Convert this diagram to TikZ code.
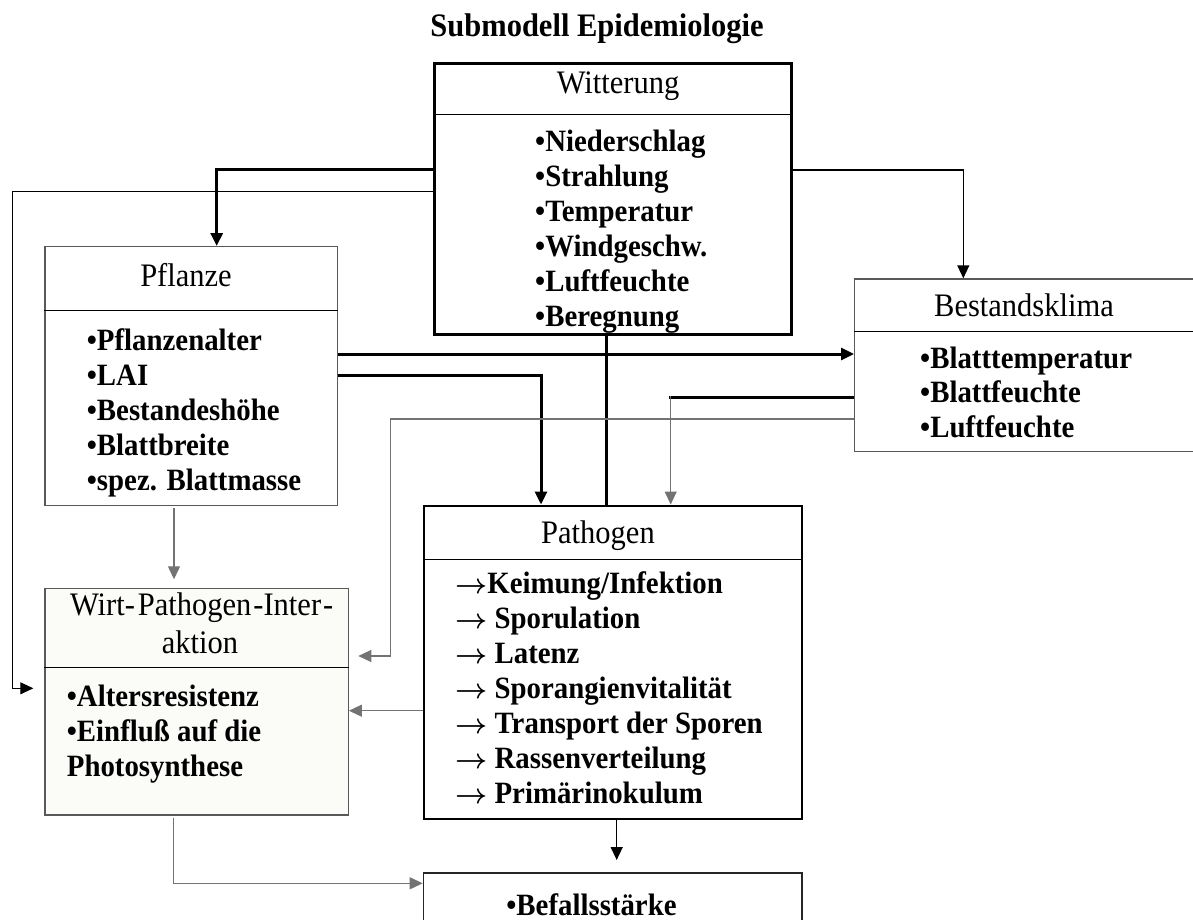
\documentclass[tikz,border=0pt]{standalone}
\usepackage{fix-cm}
\usepackage{fontspec}
\setmainfont{Liberation Serif}[FakeStretch=0.93]
\usetikzlibrary{arrows.meta,calc}
\definecolor{boxgray}{gray}{0.35}
\definecolor{wiregray}{gray}{0.45}
\definecolor{wpifill}{RGB}{251,251,248}
\newcommand\hdrf{\fontsize{32.8}{35}\selectfont}
\newcommand\itmf{\fontsize{31}{35}\selectfont\bfseries}
\newcommand\rarr{{\fontsize{28}{35}\selectfont\boldmath$\rightarrow$}}
\begin{document}
\begin{tikzpicture}[x=1pt,y=-1pt,
  box/.style={draw=boxgray,line width=1.2pt,fill=white,inner sep=0pt,anchor=north west},
  hdr/.style={font=\hdrf,inner sep=0pt,anchor=base},
  itm/.style={font=\itmf,inner sep=0pt,anchor=base west},
  thk/.style={line width=3pt,black},
  thn/.style={line width=1pt,black},
  mid/.style={line width=1.4pt,black},
  gry/.style={line width=1.2pt,wiregray},
  arr/.style={-{Triangle[length=13pt,width=12pt]}},
  divider/.style={line width=1pt,black}]
\useasboundingbox (0,0) rectangle (1193,920);

% title
\node[font=\fontsize{32.8}{35}\selectfont\bfseries,inner sep=0pt,anchor=base] (title) at (597,37) {Submodell Epidemiologie};

% boxes
\node[box,draw=black,line width=3pt,minimum width=357.3pt,minimum height=270.8pt] (wit) at (432.7,61.7) {};
\node[box,minimum width=292.4pt,minimum height=259pt] (pfl) at (44.3,246) {};
\node[box,minimum width=341pt,minimum height=172.7pt] (bkl) at (854,278.3) {};
\node[box,draw=black,line width=2pt,minimum width=377.7pt,minimum height=313.8pt] (pat) at (423,504.5) {};
\node[box,fill=wpifill,minimum width=303.4pt,minimum height=226.6pt] (wpi) at (44.3,587.7) {};
\node[box,draw=black!85,line width=1.5pt,minimum width=378.3pt,minimum height=70pt] (bef) at (422.7,872.3) {};

% dividers
\draw[divider] ($(wit.north west)+(1.5,53.3)$) -- ($(wit.north east)+(-1.5,53.3)$);
\draw[divider] ($(pfl.north west)+(0,64)$) -- ($(pfl.north east)+(0,64)$);
\draw[divider] ($(bkl.north west)+(0,53.4)$) -- ($(bkl.north east)+(0,53.4)$);
\draw[divider] ($(pat.north west)+(1,54.8)$) -- ($(pat.north east)+(-1,54.8)$);
\draw[divider] ($(wpi.north west)+(0,79.6)$) -- ($(wpi.north east)+(0,79.6)$);

% headers
\node[hdr] (witH) at (618,93.3) {Witterung};
\node[hdr] (pflH) at (186,286.7) {Pflanze};
\node[hdr] (bklH) at (1024,316) {Bestandsklima};
\node[hdr] (patH) at (598,543.3) {Pathogen};
\node[hdr] (wpiH1) at (201.7,615) {Wirt-\kern3pt Pathogen\kern2pt -Inter\kern2pt -};
\node[hdr] (wpiH2) at (200,653.3) {aktion};

% items
\foreach \t [count=\i from 0] in {Niederschlag,Strahlung,Temperatur,Windgeschw.,Luftfeuchte,Beregnung}
  \node[itm] (witI\i) at (535,151.5+35*\i) {•\t};
\foreach \t [count=\i from 0] in {Pflanzenalter,LAI,Bestandeshöhe,Blattbreite,spez. Blattmasse}
  \node[itm] (pflI\i) at (86.7,350+35*\i) {•\t};
\foreach \t [count=\i from 0] in {Blatttemperatur,Blattfeuchte,Luftfeuchte}
  \node[itm] (bklI\i) at (920,368+34.8*\i) {•\t};
\node[itm] (patI0) at (455,593.3) {\rarr Keimung/Infektion};
\foreach \t [count=\i from 1] in {Sporulation,Latenz,Sporangienvitalität,Transport der Sporen,Rassenverteilung,Primärinokulum}
  \node[itm] (patI\i) at (455,593.3+35*\i) {\rarr{} \t};
\node[itm] (wpiI0) at (66.7,706.7) {•Altersresistenz};
\node[itm] (wpiI1) at (66.7,741.7) {•Einfluß auf die};
\node[itm] (wpiI2) at (66.7,776.7) {Photosynthese};
\node[itm,anchor=base] (befI) at (591.5,915) {•Befallsstärke};

% connector waypoints
\coordinate (k1) at (216.7,170);
\coordinate (k2a) at (12.3,192);
\coordinate (k2b) at (33.3,688.3);
\coordinate (k3) at (963.3,170);
\coordinate (k4) at (0,354);
\coordinate (k5) at (541,375);
\coordinate (k6) at (606,0);
\coordinate (k7) at (670.7,397.7);
\coordinate (k8a) at (390.7,419);
\coordinate (k8b) at (358.3,656);
\coordinate (k9a) at (174,508);
\coordinate (k9b) at (174,579.3);
\coordinate (k10) at (0,710.7);
\coordinate (k11) at (616.7,860);
\coordinate (k12a) at (173.7,817.7);
\coordinate (k12b) at (173.7,883.3);

% connectors
\draw[thk,arr] (wit.west |- k1) -| (k1 |- pfl.north);
\draw[thn,arr] (wit.west |- k2a) -- (k2a) |- (k2b);
\draw[mid,arr] (wit.east |- k3) -| (k3 |- bkl.north);
\draw[thk,arr] (pfl.east |- k4) -- (bkl.west |- k4);
\draw[thk,arr] (pfl.east |- k5) -| (k5 |- pat.north);
\draw[thk] (k6 |- wit.south) -- (k6 |- pat.north);
\draw[thk] (bkl.west |- k7) -- ($(k7)+(-1.5,0)$);
\draw[gry,arr] ($(k7)+(0,-1.5)$) -- (k7 |- pat.north);
\draw[gry,arr] (bkl.west |- k8a) -- (k8a) |- (k8b);
\draw[gry,arr] (k9a) -- (k9b);
\draw[gry,arr] (pat.west |- k10) -- (wpi.east |- k10);
\draw[mid,arr] (k11 |- pat.south) -- (k11);
\draw[gry,arr] (k12a) |- (bef.west |- k12b);
\end{tikzpicture}
\end{document}
